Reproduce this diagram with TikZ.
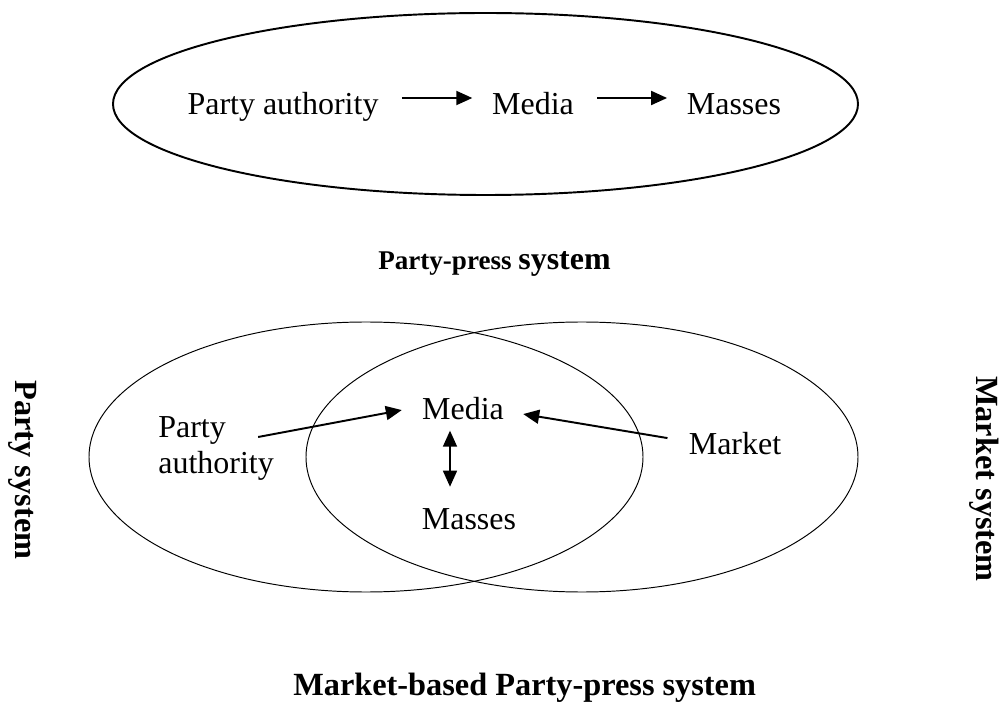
\documentclass[tikz,border=0pt]{standalone}
\usepackage{fontspec}
\setmainfont{Liberation Serif}
\usepackage{tikz}
\usetikzlibrary{arrows.meta}
\usetikzlibrary{calc}
\usetikzlibrary{positioning}
\tikzstyle{lbl} = [inner sep=0pt, font=\fontsize{18.2pt}{20.5pt}\selectfont]
\tikzstyle{rowlbl} = [lbl, text height=0.44cm, text depth=0.14cm]
\tikzstyle{ttl} = [inner sep=0pt, font=\bfseries\fontsize{18.4pt}{22pt}\selectfont]
\tikzstyle{flow} = [->, line width=1.1pt]
\tikzstyle{venn} = [line width=0.55pt]

\begin{document}
\begin{tikzpicture}[x=0.02cm, y=-0.02cm, >={Triangle[length=0.32cm,width=0.28cm]}]
    \useasboundingbox (0,0) rectangle (1001,702);

    % party-press system
    \draw[line width=1.1pt] (485.5,104) ellipse [x radius=372.5, y radius=91];
    \node[rowlbl, anchor=base] at (283,115) (party1) {Party authority};
    \node[rowlbl, anchor=base] at (533,115) (media1) {Media};
    \node[rowlbl, anchor=base] at (734,115) (masses1) {Masses};
    \draw[flow, shorten <=0.46cm, shorten >=0.39cm] ([yshift=0.19cm]party1.east) -- ([yshift=0.19cm]media1.west);
    \draw[flow, shorten <=0.46cm, shorten >=0.39cm] ([yshift=0.19cm]media1.east) -- ([yshift=0.19cm]masses1.west);
    \node[inner sep=0pt, anchor=base west, font=\bfseries] at (378,270) (title1)
        {\fontsize{15.4pt}{18pt}\selectfont Party-press \fontsize{18.2pt}{22pt}\selectfont system};

    % market-based party-press system
    \draw[venn] (366,457) ellipse [x radius=277, y radius=135];
    \draw[venn] (582,457) ellipse [x radius=276, y radius=135];
    \node[lbl, anchor=base] at (463,419) (media2) {Media};
    \node[lbl, anchor=base] at (469,529) (masses2) {Masses};
    \node[lbl, anchor=base] at (735,455) (market) {Market};
    \node[lbl, anchor=north west, align=left] at (158,416) (party2) {Party\\authority};
    \draw[flow] ($(party2.north east)+(-16,21)$) -- ($(media2.west)+(-20,2)$);
    \draw[flow] ($(market.west)+(-21,-6)$) -- ($(media2.east)+(19,6)$);
    \draw[flow, <->, line width=0.9pt] ($(media2.south)+(-13,11)$) -- ($(masses2.north)+(-19,-21)$);

    \node[ttl, rotate=-90] at (23,470) (partysys) {Party system};
    \node[ttl, rotate=-90] at (984,479) (marketsys) {Market system};
    \node[ttl, anchor=base west] at (293,695) (title2) {Market-based Party-press system};
\end{tikzpicture}
\end{document}
